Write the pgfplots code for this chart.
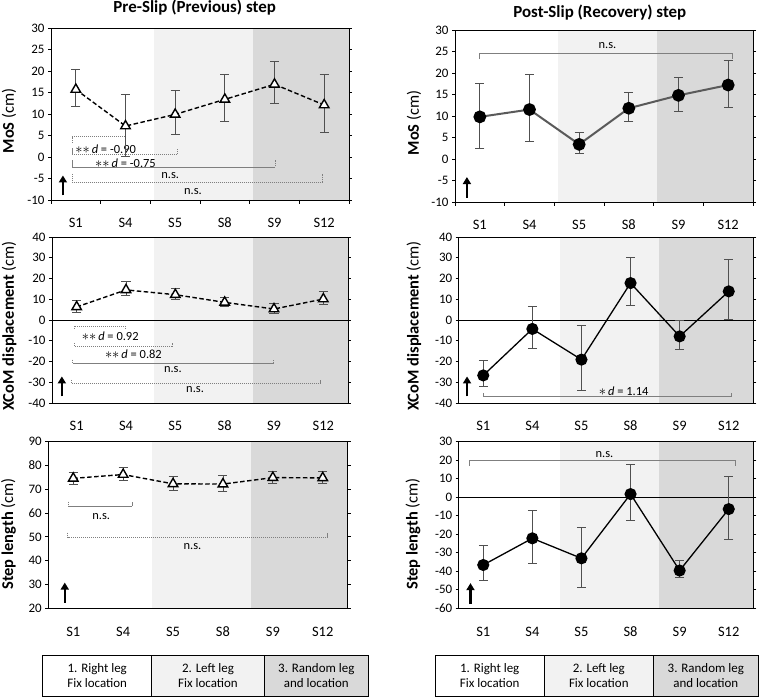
\documentclass[border=0pt]{standalone}
\usepackage{fontspec}
\setmainfont{Carlito}
\usepackage{pgfplots}
\pgfplotsset{compat=1.18}
\usetikzlibrary{arrows.meta}
\definecolor{shA}{HTML}{F2F2F2}
\definecolor{shB}{HTML}{D9D9D9}
\definecolor{errc}{HTML}{505050}
\definecolor{brc}{HTML}{7F7F7F}
\definecolor{lineg}{HTML}{5A5A5A}

\tikzset{
  brL/.style={brc, line width=0.7bp, dash pattern=on 1.2bp off 0.8bp},
  brR/.style={brc, line width=1bp},
}
\newcommand{\mybr}[5][brL]{\draw[#1] (axis cs:#2,#5) -- (axis cs:#2,#4) -- (axis cs:#3,#4) -- (axis cs:#3,#5);}
\newcommand{\bgshade}[2]{%
  \fill[shA] (axis cs:1.57,#1) rectangle (axis cs:3.57,#2);
  \fill[shB] (axis cs:3.57,#1) rectangle (axis cs:5.5,#2);}
\newcommand{\uparr}[3]{\draw[line width=2.4bp,-{Triangle[width=8bp,length=7bp]}] (axis cs:#1,#2) -- (axis cs:#1,#3);}
\newcommand{\ann}[3]{\node[font=\fontsize{12.5}{12.5}\selectfont, inner sep=0pt] at (axis cs:#1,#2) {#3};}
\newcommand{\sig}{{\fontsize{15}{12}\selectfont$\ast\ast$}\,}
\newcommand{\bt}[2]{\draw[line width=0.8bp] (axis cs:#1,#2) -- ++(0pt,-4bp);}
\newcommand{\bticks}[1]{\bt{-0.5}{#1}\bt{0.5}{#1}\bt{1.5}{#1}\bt{2.5}{#1}\bt{3.5}{#1}\bt{4.5}{#1}\bt{5.5}{#1}}

\pgfplotsset{
  base/.style={
    scale only axis, axis on top, clip=false,
    xmin=-0.5, xmax=5.5,
    xtick={0,...,5}, xticklabels={S1,S4,S5,S8,S9,S12},
    x tick style={draw=none},
    xticklabel style={font=\fontsize{14.5}{14.5}\selectfont, anchor=base, yshift=-25bp},
    yticklabel={\pgfmathprintnumber[assume math mode=true]{\tick}},
    yticklabel style={font=\fontsize{13}{13}\selectfont},
    ytick style={draw=black, line width=0.8bp},
    tick align=outside, major tick length=3bp,
    axis line style={line width=0.8bp},
  },
  ylpos/.style 2 args={ylabel style={at={(axis description cs:#1,#2)}, rotate=0, anchor=center, font=\fontsize{16.5}{16.5}\selectfont}},
  errs/.style={
    error bars/y dir=both, error bars/y explicit,
    error bars/error bar style={errc, line width=0.9bp, solid},
    error bars/error mark options={errc, line width=0.9bp, mark size=4.5bp, solid, rotate=90}},
  pre/.style={errs, black, line width=1.4bp, dash pattern=on 4.5bp off 2.5bp,
    mark=triangle*, mark size=5.5bp, mark options={solid, fill=white, draw=black, line width=1.4bp}},
  post/.style={errs, black, line width=1.3bp,
    mark=*, mark size=5.4bp, mark options={solid, fill=black, draw=black}},
}

\begin{document}
\begin{tikzpicture}
\useasboundingbox (0,0) rectangle (762bp,698bp);

% titles
\node[font=\bfseries\fontsize{17}{17}\selectfont] at (194.7bp,690bp) {Pre-Slip (Previous) step};
\node[font=\bfseries\fontsize{17}{17}\selectfont] at (599.8bp,685.5bp) {Post-Slip (Recovery) step};

% ---------- Row 1 left ----------
\begin{axis}[base, ylpos={-0.141}{0.46}, at={(51bp,498bp)}, anchor=south west, width=298bp, height=172bp,
  ymin=-10, ymax=30, ytick={-10,-5,...,30}, ylabel={\textbf{MoS} (cm)}]
\bgshade{-10}{30}
\bticks{-10}
\mybr{-0.08}{1.0}{4.7}{3.3}
\mybr{-0.08}{2.04}{0.6}{2.0}
\mybr{-0.08}{4.01}{-2.3}{-0.8}
\mybr{-0.08}{4.96}{-5.8}{-3.9}
\ann{0.60}{1.8}{\sig\textit{d} = -0.90}
\ann{1.0}{-1.4}{\sig\textit{d} = -0.75}
\ann{1.9}{-4.3}{n.s.}
\ann{2.36}{-8.1}{n.s.}
\uparr{-0.26}{-8.9}{-4.3}
\addplot[pre] coordinates {
 (0,15.7) += (0,4.6) -= (0,4.0)
 (1,7.2) += (0,7.4) -= (0,7.0)
 (2,9.9) += (0,5.6) -= (0,4.7)
 (3,13.4) += (0,5.7) -= (0,5.1)
 (4,16.9) += (0,5.4) -= (0,4.5)
 (5,12.1) += (0,7.0) -= (0,6.4)
};
\end{axis}

% ---------- Row 1 right ----------
\begin{axis}[base, ylpos={-0.138}{0.46}, at={(455bp,496bp)}, anchor=south west, width=298bp, height=172bp,
  ymin=-10, ymax=30, ytick={-10,-5,...,30}, ylabel={\textbf{MoS} (cm)}]
\bgshade{-10}{30}
\bticks{-10}
\mybr[brR]{-0.01}{5.08}{24.6}{23.2}
\ann{2.57}{26.5}{n.s.}
\uparr{-0.26}{-9}{-4.2}
\addplot[post, lineg, line width=2bp] coordinates {
 (0,9.8) += (0,7.8) -= (0,7.4)
 (1,11.5) += (0,8.2) -= (0,7.5)
 (2,3.4) += (0,2.7) -= (0,2.1)
 (3,11.8) += (0,3.7) -= (0,3.0)
 (4,14.8) += (0,4.2) -= (0,3.7)
 (5,17.2) += (0,5.7) -= (0,5.1)
};
\end{axis}

% ---------- Row 2 left ----------
\begin{axis}[base, ylpos={-0.145}{0.465}, at={(52bp,295bp)}, anchor=south west, width=296bp, height=166bp,
  ymin=-40, ymax=40, ytick={-40,-30,...,40}, ylabel={\textbf{XCoM displacement} (cm)}]
\bgshade{-40}{40}
\draw[line width=0.8bp] (axis cs:-0.5,0) -- (axis cs:5.5,0);
\mybr{-0.05}{0.99}{-2.9}{-4.3}
\mybr{-0.05}{1.93}{-12.7}{-11.1}
\mybr{-0.08}{3.99}{-20.7}{-19.1}
\mybr{-0.11}{4.94}{-30.4}{-28.8}
\ann{0.68}{-7.9}{\sig\textit{d} = 0.92}
\ann{1.15}{-16.5}{\sig\textit{d} = 0.82}
\ann{1.95}{-23.7}{n.s.}
\ann{2.4}{-33.3}{n.s.}
\uparr{-0.3}{-36.8}{-27.2}
\addplot[pre] coordinates {
 (0,6.3) += (0,3.0) -= (0,2.5)
 (1,14.5) += (0,4.1) -= (0,2.8)
 (2,12.2) += (0,2.9) -= (0,2.1)
 (3,8.5) += (0,2.6) -= (0,2.2)
 (4,5.3) += (0,2.6) -= (0,2.0)
 (5,10.1) += (0,3.7) -= (0,2.5)
};
\end{axis}

% ---------- Row 2 right ----------
\begin{axis}[base, ylpos={-0.152}{0.465}, at={(458.7bp,295bp)}, anchor=south west, width=294.6bp, height=166bp,
  ymin=-40, ymax=40, ytick={-40,-30,...,40}, ylabel={\textbf{XCoM displacement} (cm)}]
\bgshade{-40}{40}
\draw[line width=0.8bp] (axis cs:-0.5,0) -- (axis cs:5.5,0);
\mybr[brR]{0.0}{5.05}{-36.8}{-35.2}
\ann{2.86}{-34.2}{{\fontsize{14}{12}\selectfont$\ast$}\,\textit{d} = 1.14}
\uparr{-0.33}{-36.8}{-27.2}
\addplot[post] coordinates {
 (0,-26.7) += (0,7.1) -= (0,5.3)
 (1,-4.3) += (0,10.9) -= (0,9.2)
 (2,-19.1) += (0,16.4) -= (0,14.9)
 (3,17.8) += (0,12.4) -= (0,10.9)
 (4,-7.9) += (0,7.6) -= (0,6.1)
 (5,13.8) += (0,15.3) -= (0,13.3)
};
\end{axis}

% ---------- Row 3 left ----------
\begin{axis}[base, ylpos={-0.133}{0.446}, at={(48.3bp,89.7bp)}, anchor=south west, width=299.4bp, height=166.6bp,
  ymin=20, ymax=90, ytick={20,30,...,90}, ylabel={\textbf{Step length} (cm)}]
\bgshade{20}{90}
\mybr{-0.09}{1.18}{63}{64.8}
\mybr{-0.11}{5.09}{49.8}{51.8}
\ann{0.56}{58.5}{n.s.}
\ann{2.39}{45.9}{n.s.}
\uparr{-0.17}{22.4}{30.8}
\addplot[pre] coordinates {
 (0,74.6) += (0,2.4) -= (0,2.4)
 (1,76.2) += (0,2.8) -= (0,2.6)
 (2,72.3) += (0,3.0) -= (0,2.6)
 (3,72.2) += (0,3.6) -= (0,3.0)
 (4,74.9) += (0,2.8) -= (0,2.6)
 (5,74.8) += (0,2.6) -= (0,2.4)
};
\end{axis}

% ---------- Row 3 right ----------
\begin{axis}[base, ylpos={-0.155}{0.446}, at={(458.7bp,89.7bp)}, anchor=south west, width=294.6bp, height=166.6bp,
  ymin=-60, ymax=30, ytick={-60,-50,...,30}, ylabel={\textbf{Step length} (cm)}]
\bgshade{-60}{30}
\draw[line width=0.8bp] (axis cs:-0.5,0) -- (axis cs:5.5,0);
\mybr[brR]{-0.27}{5.13}{19.6}{16.9}
\ann{2.47}{23.3}{n.s.}
\uparr{-0.26}{-57.8}{-46.4}
\addplot[post] coordinates {
 (0,-36.6) += (0,10.4) -= (0,8.6)
 (1,-22.2) += (0,14.8) -= (0,13.5)
 (2,-33.0) += (0,16.6) -= (0,15.7)
 (3,1.7) += (0,16.1) -= (0,14.0)
 (4,-39.6) += (0,5.4) -= (0,3.8)
 (5,-6.4) += (0,17.9) -= (0,16.2)
};
\end{axis}

% ---------- condition boxes ----------
\begin{scope}[every node/.style={font=\fontsize{13}{15}\selectfont, align=center}]
\fill[white] (42.7bp,2bp) rectangle (151.7bp,43bp);
\fill[shA] (151.7bp,2bp) rectangle (264.3bp,43bp);
\fill[shB] (264.3bp,2bp) rectangle (368.3bp,43bp);
\draw[line width=0.9bp] (42.7bp,2bp) rectangle (368.3bp,43bp);
\draw[line width=0.9bp] (151.7bp,2bp) -- (151.7bp,43bp) (264.3bp,2bp) -- (264.3bp,43bp);
\node at (97.2bp,22.5bp) {1. Right leg\\Fix location};
\node at (208bp,22.5bp) {2. Left leg\\Fix location};
\node at (316.3bp,22.5bp) {3. Random leg\\and location};

\fill[white] (435bp,2bp) rectangle (544.3bp,43bp);
\fill[shA] (544.3bp,2bp) rectangle (653.3bp,43bp);
\fill[shB] (653.3bp,2bp) rectangle (758.3bp,43bp);
\draw[line width=0.9bp] (435bp,2bp) rectangle (758.3bp,43bp);
\draw[line width=0.9bp] (544.3bp,2bp) -- (544.3bp,43bp) (653.3bp,2bp) -- (653.3bp,43bp);
\node at (489.7bp,22.5bp) {1. Right leg\\Fix location};
\node at (598.8bp,22.5bp) {2. Left leg\\Fix location};
\node at (705.8bp,22.5bp) {3. Random leg\\and location};
\end{scope}
\end{tikzpicture}
\end{document}
